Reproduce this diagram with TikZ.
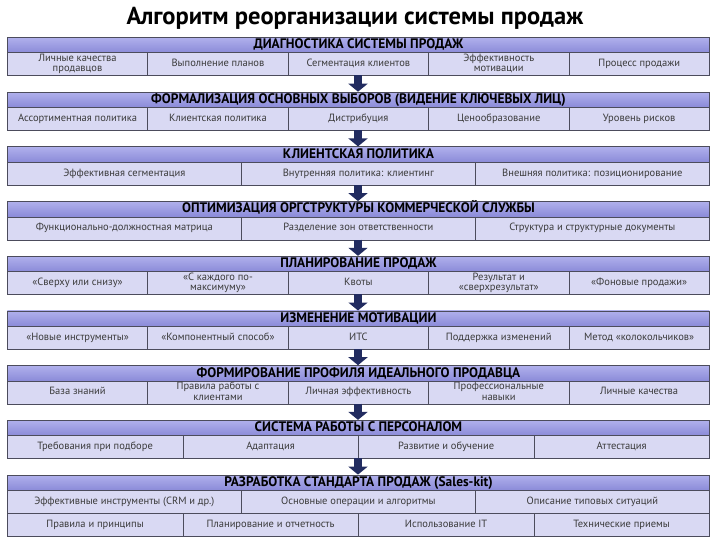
\documentclass[tikz,border=0pt]{standalone}
\usepackage{fontspec}
\setmainfont{PT Sans}
\newfontfamily\cellfont{PT Sans}[FakeStretch=1.0]
\newfontfamily\headfont{PT Sans}[FakeStretch=0.97]
\usetikzlibrary{arrows.meta}
\definecolor{hdtop}{HTML}{B0B0EC}
\definecolor{hdbot}{HTML}{8A8AD8}
\definecolor{cellbg}{HTML}{D9D9F3}
\definecolor{edgec}{HTML}{4C4C5C}
\definecolor{arrowc}{HTML}{222C60}
\definecolor{celltext}{HTML}{3A3A3A}
\newcommand{\cs}{\rule[-2.6pt]{0pt}{9.6pt}}
\tikzset{
  head/.style={draw=edgec, line width=0.9pt, top color=hdtop, bottom color=hdbot,
    minimum width=702pt, minimum height=15.5pt, inner sep=0pt, anchor=north west,
    font=\headfont\bfseries\fontsize{13.8}{14}\selectfont, text=black,
    text height=9.8pt, text depth=2.4pt},
  cell/.style={draw=edgec, line width=0.7pt, fill=cellbg, minimum height=23pt,
    inner sep=0pt, anchor=north west, align=center,
    font=\cellfont\fontsize{10.5}{10.4}\selectfont, text=celltext,
    execute at begin node=\cs},
  flow/.style={draw=arrowc, line width=8.5pt,
    -{Triangle[width=19pt,length=8pt]}, shorten >=0pt},
}
\begin{document}
\begin{tikzpicture}[x=1pt,y=-1pt]
\useasboundingbox (0,0) rectangle (720,540);
\fill[white] (0,0) rectangle (720,540);
\node[font=\bfseries\fontsize{24.5}{26}\selectfont] (title) at (355,18) {Алгоритм реорганизации системы продаж};

% Block 1
\node[head] (h1) at (7,37) {ДИАГНОСТИКА СИСТЕМЫ ПРОДАЖ};
\foreach \t [count=\i from 0] in {{Личные качества\\\cs продавцов},{Выполнение планов},{Сегментация клиентов},{Эффективность\\\cs мотивации},{Процесс продажи}}
  \node[cell, minimum width=140.4pt] (r1c\i) at ({7+140.4*\i},52.5) {\t};
\coordinate (b1) at (358,75.5);

% Block 2
\node[head] (h2) at (7,91.7) {ФОРМАЛИЗАЦИЯ ОСНОВНЫХ ВЫБОРОВ (ВИДЕНИЕ КЛЮЧЕВЫХ ЛИЦ)};
\foreach \t [count=\i from 0] in {{Ассортиментная политика},{Клиентская политика},{Дистрибуция},{Ценообразование},{Уровень рисков}}
  \node[cell, minimum width=140.4pt] (r2c\i) at ({7+140.4*\i},107.2) {\t};
\coordinate (b2) at (358,130.2);

% Block 3
\node[head] (h3) at (7,146.4) {КЛИЕНТСКАЯ ПОЛИТИКА};
\foreach \t [count=\i from 0] in {{Эффективная сегментация},{Внутренняя политика: клиентинг},{Внешняя политика: позиционирование}}
  \node[cell, minimum width=234pt] (r3c\i) at ({7+234*\i},161.9) {\t};
\coordinate (b3) at (358,184.9);

% Block 4
\node[head] (h4) at (7,201.1) {ОПТИМИЗАЦИЯ ОРГСТРУКТУРЫ КОММЕРЧЕСКОЙ СЛУЖБЫ};
\foreach \t [count=\i from 0] in {{Функционально-должностная матрица},{Разделение зон ответственности},{Структура и структурные документы}}
  \node[cell, minimum width=234pt] (r4c\i) at ({7+234*\i},216.6) {\t};
\coordinate (b4) at (358,239.6);

% Block 5
\node[head] (h5) at (7,255.8) {ПЛАНИРОВАНИЕ ПРОДАЖ};
\foreach \t [count=\i from 0] in {{«Сверху или снизу»},{«С каждого по-\\\cs максимуму»},{Квоты},{Результат и\\\cs «сверхрезультат»},{«Фоновые продажи»}}
  \node[cell, minimum width=140.4pt] (r5c\i) at ({7+140.4*\i},271.3) {\t};
\coordinate (b5) at (358,294.3);

% Block 6
\node[head] (h6) at (7,310.5) {ИЗМЕНЕНИЕ МОТИВАЦИИ};
\foreach \t [count=\i from 0] in {{«Новые инструменты»},{«Компонентный способ»},{ИТС},{Поддержка изменений},{Метод «колокольчиков»}}
  \node[cell, minimum width=140.4pt] (r6c\i) at ({7+140.4*\i},326) {\t};
\coordinate (b6) at (358,349);

% Block 7
\node[head] (h7) at (7,365.2) {ФОРМИРОВАНИЕ ПРОФИЛЯ ИДЕАЛЬНОГО ПРОДАВЦА};
\foreach \t [count=\i from 0] in {{База знаний},{Правила работы с\\\cs клиентами},{Личная эффективность},{Профессиональные\\\cs навыки},{Личные качества}}
  \node[cell, minimum width=140.4pt] (r7c\i) at ({7+140.4*\i},380.7) {\t};
\coordinate (b7) at (358,403.7);

% Block 8
\node[head] (h8) at (7,419.9) {СИСТЕМА РАБОТЫ С ПЕРСОНАЛОМ};
\foreach \t [count=\i from 0] in {{Требования при подборе},{Адаптация},{Развитие и обучение},{Аттестация}}
  \node[cell, minimum width=175.5pt] (r8c\i) at ({7+175.5*\i},435.4) {\t};
\coordinate (b8) at (358,458.4);

% Block 9
\node[head] (h9) at (7,474.6) {РАЗРАБОТКА СТАНДАРТА ПРОДАЖ (Sales-kit)};
\foreach \t [count=\i from 0] in {{Эффективные инструменты (CRM и др.)},{Основные операции и алгоритмы},{Описание типовых ситуаций}}
  \node[cell, minimum width=234pt] (r9c\i) at ({7+234*\i},490.1) {\t};
\foreach \t [count=\i from 0] in {{Правила и принципы},{Планирование и отчетность},{Использование IT},{Технические приемы}}
  \node[cell, minimum width=175.5pt] (r10c\i) at ({7+175.5*\i},513.1) {\t};

% Arrows
\foreach \a/\b in {1/2,2/3,3/4,4/5,5/6,6/7,7/8,8/9}
  \draw[flow] (b\a) -- (b\a |- h\b.north);
\end{tikzpicture}
\end{document}
